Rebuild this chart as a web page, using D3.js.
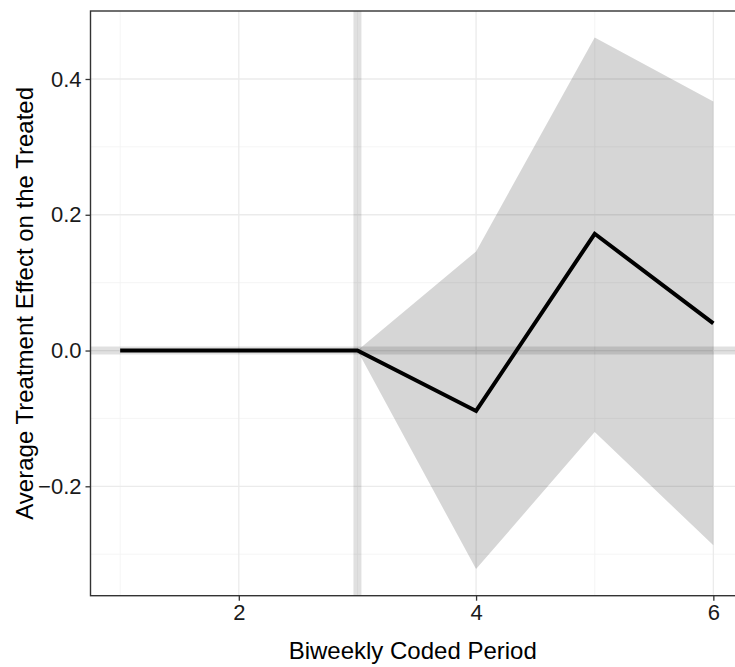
<!DOCTYPE html>
<html>
<head>
<meta charset="utf-8">
<script src="https://cdn.jsdelivr.net/npm/d3@7"></script>
<style>
  body { margin: 0; background: #fff; }
  #chart { width: 735px; height: 667px; }
  text { font-family: "Liberation Sans", Arial, sans-serif; }
</style>
</head>
<body>
<div id="chart"></div>
<script>
//Datos
const periods = [1, 2, 3, 4, 5, 6];
const att = [0, 0, 0, -0.089, 0.172, 0.040];
const lower = [0, 0, 0, -0.322, -0.120, -0.287];
const upper = [0, 0, 0, 0.146, 0.461, 0.367];

const xTicks = [2, 4, 6];
const xMinor = [1, 3, 5];
const yTicks = [-0.2, 0, 0.2, 0.4];
const yMinor = [-0.3, -0.1, 0.1, 0.3];

const treatStart = 3;

let data = periods.map(function(p, i) {
    return { period: p, att: att[i], lower: lower[i], upper: upper[i] };
});

//Márgenes (el panel se sale por la derecha, como en el original)
let margin = {top: 11, right: -8, bottom: 71.3, left: 90.5},
    width = 735 - margin.left - margin.right,
    height = 667 - margin.top - margin.bottom;

let svg = d3.select("#chart")
    .append("svg")
      .attr("width", 735)
      .attr("height", 667)
    .append("g")
      .attr("transform", "translate(" + margin.left + "," + margin.top + ")");

//Escalas con expansión del 5%
let xExt = d3.extent(periods), xPad = (xExt[1] - xExt[0]) * 0.05;
let x = d3.scaleLinear()
    .domain([xExt[0] - xPad, xExt[1] + xPad])
    .range([0, width]);

let yExt = [d3.min(lower), d3.max(upper)], yPad = (yExt[1] - yExt[0]) * 0.05;
let y = d3.scaleLinear()
    .domain([yExt[0] - yPad, yExt[1] + yPad])
    .range([height, 0]);

//Rejilla
let grid = svg.append("g");
grid.selectAll(".ymin").data(yMinor).enter().append("line")
    .attr("x1", 0).attr("x2", width)
    .attr("y1", d => y(d)).attr("y2", d => y(d))
    .attr("stroke", "#f2f2f2").attr("stroke-width", 0.8);
grid.selectAll(".xmin").data(xMinor).enter().append("line")
    .attr("y1", 0).attr("y2", height)
    .attr("x1", d => x(d)).attr("x2", d => x(d))
    .attr("stroke", "#f2f2f2").attr("stroke-width", 0.8);
grid.selectAll(".ymaj").data(yTicks).enter().append("line")
    .attr("x1", 0).attr("x2", width)
    .attr("y1", d => y(d)).attr("y2", d => y(d))
    .attr("stroke", "#ebebeb").attr("stroke-width", 1.3);
grid.selectAll(".xmaj").data(xTicks).enter().append("line")
    .attr("y1", 0).attr("y2", height)
    .attr("x1", d => x(d)).attr("x2", d => x(d))
    .attr("stroke", "#ebebeb").attr("stroke-width", 1.3);

//Banda de confianza
let area = d3.area()
    .x(d => x(d.period))
    .y0(d => y(d.lower))
    .y1(d => y(d.upper));

svg.append("path")
    .datum(data)
    .attr("d", area)
    .attr("fill", "#000")
    .attr("fill-opacity", 0.16);

//Líneas de referencia
svg.append("line")
    .attr("x1", 0).attr("x2", width)
    .attr("y1", y(0)).attr("y2", y(0))
    .attr("stroke", "#000").attr("stroke-opacity", 0.12)
    .attr("stroke-width", 8);

svg.append("line")
    .attr("x1", x(treatStart)).attr("x2", x(treatStart))
    .attr("y1", 0).attr("y2", height)
    .attr("stroke", "#000").attr("stroke-opacity", 0.12)
    .attr("stroke-width", 8);

//Línea del efecto
let line = d3.line()
    .x(d => x(d.period))
    .y(d => y(d.att));

svg.append("path")
    .datum(data)
    .attr("d", line)
    .attr("fill", "none")
    .attr("stroke", "#000")
    .attr("stroke-width", 4)
    .attr("stroke-linejoin", "miter");

//Borde del panel
svg.append("rect")
    .attr("x", 0).attr("y", 0)
    .attr("width", width).attr("height", height)
    .attr("fill", "none")
    .attr("stroke", "#333")
    .attr("stroke-width", 1.4);

//Ejes
let xAxis = d3.axisBottom(x).tickValues(xTicks).tickSize(5).tickPadding(4).tickFormat(d3.format("d"));
let yAxis = d3.axisLeft(y).tickValues(yTicks).tickSize(5).tickPadding(4)
    .tickFormat(d => d3.format(".1f")(d).replace("-", "\u2212"));

let gx = svg.append("g")
    .attr("transform", "translate(0," + height + ")")
    .call(xAxis);
let gy = svg.append("g").call(yAxis);

[gx, gy].forEach(function(g) {
    g.select(".domain").remove();
    g.selectAll(".tick line").attr("stroke", "#333").attr("stroke-width", 1.3);
    g.selectAll(".tick text")
        .attr("fill", "#1a1a1a")
        .style("font-size", "22px")
        .style("font-family", "Liberation Sans, Arial, sans-serif");
});

//Títulos
svg.append("text")
    .attr("x", width / 2 - 4)
    .attr("y", height + 63)
    .attr("text-anchor", "middle")
    .style("font-size", "24px")
    .text("Biweekly Coded Period");

svg.append("text")
    .attr("transform", "translate(" + (33 - margin.left) + "," + (height / 2) + ") rotate(-90)")
    .attr("text-anchor", "middle")
    .style("font-size", "24px")
    .text("Average Treatment Effect on the Treated");
</script>
</body>
</html>
